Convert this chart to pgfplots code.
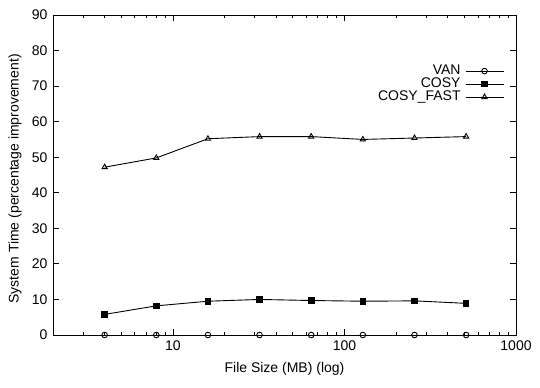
\documentclass[border=0pt]{standalone}
\usepackage{pgfplots}
\pgfplotsset{compat=1.18}
\usepackage{fontspec}
\setmainfont{Liberation Sans}
\begin{document}
\begin{tikzpicture}
\begin{axis}[
  scale only axis,
  width=463bp, height=320bp,
  xmode=log, xmin=2, xmax=1000,
  ymin=0, ymax=90,
  ytick={0,10,...,90},
  xtick={10,100,1000},
  xticklabels={10,100,1000},
  minor xtick={2,3,4,5,6,7,8,9,20,30,40,50,60,70,80,90,200,300,400,500,600,700,800,900},
  tick align=inside,
  major tick length=6bp, minor tick length=3bp,
  every tick/.style={black, line width=0.8bp},
  axis line style={line width=0.9bp},
  /pgf/number format/assume math mode=true,
  tick label style={font=\fontsize{14bp}{16bp}\selectfont},
  xticklabel style={yshift=-2bp},
  yticklabel style={xshift=-2bp},
  label style={font=\fontsize{14bp}{16bp}\selectfont},
  xlabel={File Size (MB) (log)},
  ylabel={System Time (percentage improvement)},
  xlabel style={at={(axis description cs:0.5,-0.106)}, anchor=center},
  ylabel style={at={(axis description cs:-0.082,0.488)}, anchor=center},
  legend style={draw=none, fill=none, at={(0.974,0.845)}, anchor=north east,
    inner sep=0pt, outer sep=0pt,
    font=\fontsize{14bp}{16bp}\selectfont, row sep=0bp,
    nodes={inner sep=0.5bp, text height=9.5bp, text depth=2.5bp},
    /tikz/every odd column/.append style={column sep=4bp}},
  legend cell align=right,
  legend plot pos=right,
  legend image code/.code={
    \draw[mark repeat=2,mark phase=2] plot coordinates {(0bp,0bp) (19bp,0bp) (38bp,0bp)};
  },
]
\addplot[black, line width=0.9bp, mark=o, mark size=2.8bp, mark options={line width=0.9bp}] coordinates {
 (4,0) (8,0) (16,0) (32,0) (64,0) (128,0) (256,0) (512,0)};
\addlegendentry{VAN}
\addplot[black, line width=0.9bp, mark=square*, mark size=2.8bp] coordinates {
 (4,5.8) (8,8.2) (16,9.5) (32,10.0) (64,9.7) (128,9.5) (256,9.6) (512,8.9)};
\addlegendentry{COSY}
\addplot[black, line width=0.9bp, mark=triangle, mark size=3bp, mark options={line width=0.9bp}] coordinates {
 (4,47.2) (8,49.8) (16,55.2) (32,55.8) (64,55.8) (128,55.0) (256,55.4) (512,55.8)};
\addlegendentry{COSY\_FAST}
\end{axis}
\pgfresetboundingbox
\path[use as bounding box] (current axis.south west) ++(-53bp,-53bp) rectangle ++(540bp,388bp);
\end{tikzpicture}
\end{document}
